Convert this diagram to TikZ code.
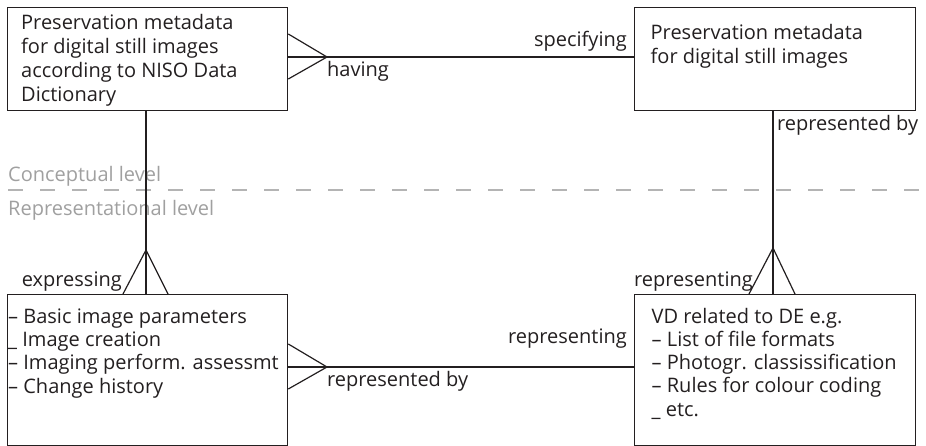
\documentclass[tikz,border=0pt]{standalone}
\usepackage{fontspec}
\setmainfont{Open Sans}
\definecolor{ink}{HTML}{231F20}
\definecolor{lvl}{HTML}{A0A0A0}
\definecolor{dashc}{HTML}{B4B4B4}
\begin{document}
\begin{tikzpicture}[x=1pt,y=-1pt,
  box/.style={draw=ink, line width=1.3pt, inner sep=0pt, anchor=north west},
  conn/.style={draw=ink, line width=1.2pt},
  txt/.style={inner sep=0pt, text=ink, font=\fontsize{20}{24}\selectfont},
  lbl/.style={inner sep=0pt, text=ink, font=\fontsize{20}{24}\selectfont},
  lvltxt/.style={inner sep=0pt, text=lvl, font=\fontsize{20}{24}\selectfont}]
\useasboundingbox (0,0) rectangle (926,446);
% boxes
\node[box, minimum width=280pt, minimum height=103pt] (A) at (7,7) {};
\node[box, minimum width=281pt, minimum height=103pt] (B) at (634,7) {};
\node[box, minimum width=280pt, minimum height=151pt] (C) at (7,294) {};
\node[box, minimum width=281pt, minimum height=151pt] (D) at (634,294) {};
% box texts
\node[txt, anchor=base west] (At) at (21,29.3) {\parbox[t]{265pt}{\fontsize{20}{24}\selectfont\raggedright
Preservation metadata\\for digital still images\\according to NISO Data\\Dictionary}};
\node[txt, anchor=base west] (Bt) at (650.5,39.3) {\parbox[t]{262pt}{\fontsize{20}{24}\selectfont\raggedright
Preservation metadata\\for digital still images}};
\node[txt, anchor=base west] (Ct) at (8,323.3) {\parbox[t]{278pt}{\fontsize{20}{23.3}\selectfont\raggedright
– Basic image parameters\\\_ Image creation\\– Imaging perform. assessmt\\– Change history}};
\node[txt, anchor=base west] (Dt) at (651.5,323.3) {\parbox[t]{262pt}{\fontsize{20}{23.2}\selectfont\raggedright
VD related to DE e.g.\\– List of file formats\\– Photogr. classissification\\– Rules for colour coding\\\_ etc.}};
% level separator
\coordinate (dl) at (8,190);
\coordinate (dr) at (926,190);
\draw[dashc, line width=1.3pt, dash pattern=on 15pt off 17pt] (dl) -- (dr);
\node[lvltxt, anchor=base west] (conc) at (8,181.7) {Conceptual level};
\node[lvltxt, anchor=base west] (repr) at (8,215.7) {Representational level};
% A -- B (crow's foot at A)
\coordinate (fAB) at (327,57);
\draw[conn] (A.east |- fAB) -- (B.west |- fAB);
\draw[conn] (A.east |- 0,34) -- (fAB) -- (A.east |- 0,79);
% C -- D (crow's foot at C)
\coordinate (fCD) at (327,367);
\draw[conn] (C.east |- fCD) -- (D.west |- fCD);
\draw[conn] (C.east |- 0,344) -- (fCD) -- (C.east |- 0,389);
% A -- C (crow's foot at C)
\coordinate (fAC) at (146,250);
\draw[conn] (A.south -| fAC) -- (C.north -| fAC);
\draw[conn] (C.north -| 123,0) -- (fAC) -- (C.north -| 168,0);
% B -- D (crow's foot at D)
\coordinate (fBD) at (773,248);
\draw[conn] (B.south -| fBD) -- (D.north -| fBD);
\draw[conn] (D.north -| 749,0) -- (fBD) -- (D.north -| 795,0);
% relationship labels
\node[lbl, anchor=base west] (having) at (327,77) {having};
\node[lbl, anchor=base east] (specifying) at (627,46.7) {specifying};
\node[lbl, anchor=base west] (reprby1) at (777,131) {represented by};
\node[lbl, anchor=base east] (expressing) at (122,286.7) {expressing};
\node[lbl, anchor=base west] (reping1) at (634,286.7) {representing};
\node[lbl, anchor=base east] (reping2) at (627,343.3) {representing};
\node[lbl, anchor=base west] (reprby2) at (327,386.7) {represented by};
\end{tikzpicture}
\end{document}
